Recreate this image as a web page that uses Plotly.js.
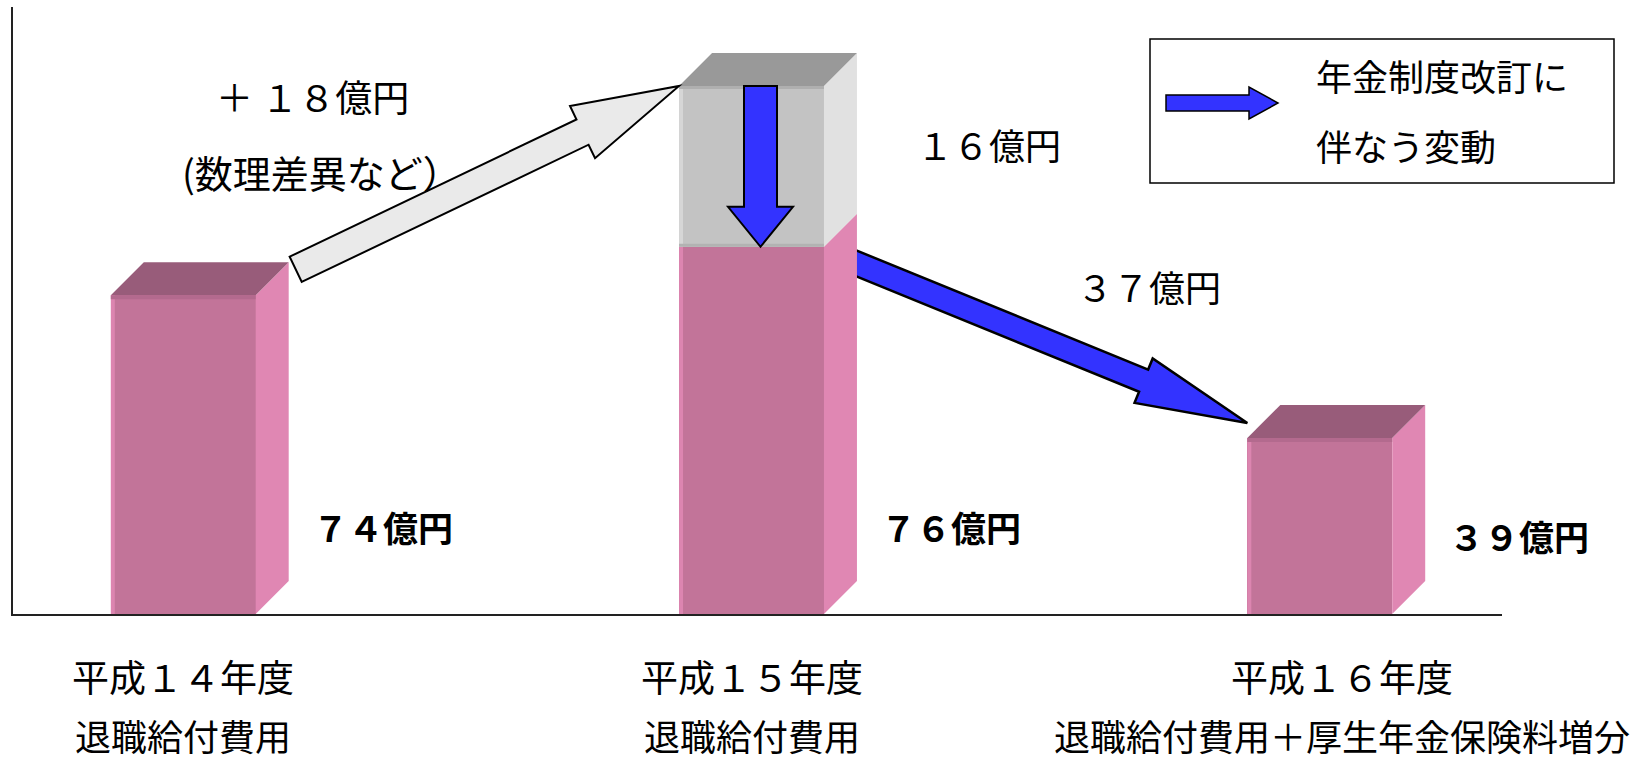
<!DOCTYPE html>
<html><head><meta charset="utf-8">
<script src="https://cdn.plot.ly/plotly-3.0.1.min.js"></script>
<style>html,body{margin:0;padding:0;background:#fff;}#chart{width:1650px;height:765px;}</style>
</head><body><div id="chart"></div>
<script>
// ---- data ----
const categories = ['平成１４年度', '平成１５年度', '平成１６年度'];
const subLabels = ['退職給付費用', '退職給付費用', '退職給付費用＋厚生年金保険料増分'];
const amountLabels = ['７４億円', '７６億円', '３９億円'];
// drawn bar heights as they appear in the picture (axis 0-100, diagram not to scale)
const pinkHeights = [52.5, 60.5, 29.0];
const grayHeights = [0, 26.5, 0];
const increaseLabels = ['＋ １８億円', '(数理差異など）'];
const revisionLabel = '１６億円';
const dropLabel = '３７億円';
const legendLines = ['年金制度改訂に', '伴なう変動'];

// ---- layout constants ----
const W = 1650, H = 765;
const M = {l: 13, r: 148, t: 7, b: 151};
const plotW = W - M.l - M.r, plotH = H - M.t - M.b;
const xRange = [-0.2996, 2.3207];
const yRange = [0, 100];
const barWidth = 0.255;
const depthPx = 33;
const FONT = "'Noto Sans CJK JP', 'Noto Sans', sans-serif";

const pxPerX = plotW / (xRange[1] - xRange[0]);
const pxPerY = plotH / (yRange[1] - yRange[0]);
const xToPx = x => M.l + (x - xRange[0]) * pxPerX;
const yToPx = y => M.t + plotH - (y - yRange[0]) * pxPerY;
const pxToX = p => xRange[0] + (p - M.l) / pxPerX;
const pxToY = p => yRange[0] + (M.t + plotH - p) / pxPerY;
const pxToPX = p => (p - M.l) / plotW;
const pxToPY = p => (M.t + plotH - p) / plotH;

function dataPath(pts) {
  return 'M' + pts.map(p => pxToX(p[0]).toFixed(5) + ',' + pxToY(p[1]).toFixed(4)).join('L') + 'Z';
}
function paperPath(pts) {
  return 'M' + pts.map(p => pxToPX(p[0]).toFixed(5) + ',' + pxToPY(p[1]).toFixed(5)).join('L') + 'Z';
}
function arrowPts(start, tip, sh, hh, hl) {
  const dx = tip[0] - start[0], dy = tip[1] - start[1];
  const L = Math.hypot(dx, dy);
  const ux = dx / L, uy = dy / L;
  const nx = -uy, ny = ux;
  const bx = tip[0] - ux * hl, by = tip[1] - uy * hl;
  return [
    [start[0] + nx * sh, start[1] + ny * sh],
    [bx + nx * sh, by + ny * sh],
    [bx + nx * hh, by + ny * hh],
    tip,
    [bx - nx * hh, by - ny * hh],
    [bx - nx * sh, by - ny * sh],
    [start[0] - nx * sh, start[1] - ny * sh]
  ];
}
const poly = (path, fill, lw, lc, ref) => ({
  type: 'path', path: path, xref: ref || 'x', yref: ref || 'y', layer: 'above',
  fillcolor: fill, line: {width: lw || 0, color: lc || 'rgba(0,0,0,0)'}
});

// geometry for each bar
const geo = categories.map((c, i) => {
  const left = xToPx(i - barWidth / 2), right = xToPx(i + barWidth / 2);
  return {
    left, right, cx: xToPx(i),
    base: yToPx(0),
    pinkTop: yToPx(pinkHeights[i]),
    top: yToPx(pinkHeights[i] + grayHeights[i]),
    hasGray: grayHeights[i] > 0
  };
});

const d = depthPx;
const shapes = [];

// blue diagonal arrow (behind bar 2 side face)
{
  const g2 = geo[1], g3 = geo[2];
  const start = [g2.right + d - 12, g2.pinkTop + 12];
  const tip = [g3.left, g3.top - 15];
  shapes.push(poly(dataPath(arrowPts(start, tip, 12, 24, 112)), '#3333FF', 2.5, '#000'));
}

geo.forEach((g, i) => {
  // side faces
  shapes.push(poly(dataPath([[g.right, g.base], [g.right, g.pinkTop], [g.right + d, g.pinkTop - d], [g.right + d, g.base - d]]), '#E087B3'));
  if (g.hasGray) {
    shapes.push(poly(dataPath([[g.right, g.pinkTop], [g.right, g.top], [g.right + d, g.top - d], [g.right + d, g.pinkTop - d]]), '#E1E1E1'));
  }
  // top face
  shapes.push(poly(dataPath([[g.left, g.top], [g.right, g.top], [g.right + d, g.top - d], [g.left + d, g.top - d]]), g.hasGray ? '#999999' : '#985C7A'));
  // edge highlights
  shapes.push(poly(dataPath([[g.left, g.base + 3], [g.left + 4, g.base + 3], [g.left + 4, g.pinkTop], [g.left, g.pinkTop]]), '#DC85B0'));
  shapes.push(poly(dataPath([[g.left, g.base], [g.right, g.base], [g.right, g.base + 3], [g.left, g.base + 3]]), '#DC94B8'));
  if (g.hasGray) {
    shapes.push(poly(dataPath([[g.left, g.pinkTop], [g.left + 4, g.pinkTop], [g.left + 4, g.top], [g.left, g.top]]), '#D6D6D6'));
    shapes.push(poly(dataPath([[g.left, g.pinkTop - 3], [g.right, g.pinkTop - 3], [g.right, g.pinkTop], [g.left, g.pinkTop]]), '#B2B2B2'));
    shapes.push(poly(dataPath([[g.left, g.top], [g.right, g.top], [g.right, g.top + 3], [g.left, g.top + 3]]), '#AFAFAF'));
  } else {
    shapes.push(poly(dataPath([[g.left, g.top], [g.right, g.top], [g.right, g.top + 4], [g.left, g.top + 4]]), '#B36A8E'));
  }
});

// white arrow: bar 1 -> bar 2
{
  const g1 = geo[0], g2 = geo[1];
  const start = [g1.right + d + 7, g1.top - 26];
  const tip = [g2.left, g2.top];
  shapes.push(poly(dataPath(arrowPts(start, tip, 14, 29, 107)), '#EAEAEA', 2, '#000'));
}
// blue down arrow inside bar 2
{
  const g2 = geo[1];
  const start = [g2.cx + 9, g2.top];
  const tip = [g2.cx + 9, g2.pinkTop];
  shapes.push(poly(dataPath(arrowPts(start, tip, 16.5, 32.5, 40)), '#3333FF', 2, '#000'));
}
// legend box and arrow
shapes.push({type: 'rect', xref: 'paper', yref: 'paper', x0: pxToPX(1150), x1: pxToPX(1614), y0: pxToPY(183), y1: pxToPY(39),
  line: {width: 1.5, color: '#000'}, fillcolor: 'rgba(0,0,0,0)', layer: 'above'});
shapes.push(poly(paperPath(arrowPts([1166, 103], [1278, 103], 8, 16, 29)), '#3333FF', 1.5, '#000', 'paper'));

// ---- traces ----
const traces = [
  {type: 'bar', x: categories, y: pinkHeights, width: barWidth, marker: {color: '#C27499', line: {width: 0}}, hoverinfo: 'skip', showlegend: false},
  {type: 'bar', x: categories, y: grayHeights, width: barWidth, marker: {color: '#C3C3C3', line: {width: 0}}, hoverinfo: 'skip', showlegend: false}
];

// ---- annotations ----
const txt = (text, x, y, size, opts) => Object.assign({
  text: text, x: x, y: y, xref: 'paper', yref: 'paper', showarrow: false,
  xanchor: 'center', yanchor: 'middle', font: {family: FONT, size: size, color: '#000'}
}, opts || {});

const annotations = [];
categories.forEach((c, i) => {
  const shift = i === 2 ? 22 : 0;
  annotations.push(txt(c, c, pxToPY(676), 37, {xref: 'x', xshift: shift}));
  annotations.push(txt(subLabels[i], c, pxToPY(763), 36, {xref: 'x', xshift: shift, yanchor: 'bottom'}));
  annotations.push(txt('<b>' + amountLabels[i] + '</b>', c, pxToPY(526), 35,
    {xref: 'x', xanchor: 'left', xshift: barWidth / 2 * pxPerX + depthPx + 22, yshift: i === 2 ? -9 : 0}));
});
annotations.push(txt(increaseLabels[0], pxToPX(312), pxToPY(96), 37));
annotations.push(txt(increaseLabels[1], pxToPX(321), pxToPY(171), 38));
annotations.push(txt(revisionLabel, pxToPX(989), pxToPY(144), 36));
annotations.push(txt(dropLabel, pxToPX(1149), pxToPY(286), 36));
annotations.push(txt(legendLines[0], pxToPX(1314), pxToPY(75), 36, {xanchor: 'left'}));
annotations.push(txt(legendLines[1], pxToPX(1314), pxToPY(145), 36, {xanchor: 'left'}));

const layout = {
  width: W, height: H,
  margin: M,
  paper_bgcolor: '#fff', plot_bgcolor: '#fff',
  barmode: 'stack',
  bargap: 0,
  showlegend: false,
  font: {family: FONT},
  xaxis: {type: 'category', range: xRange, showgrid: false, zeroline: false, showticklabels: false, ticks: '',
    showline: true, linecolor: '#222', linewidth: 2, fixedrange: true},
  yaxis: {range: yRange, showgrid: false, zeroline: false, showticklabels: false, ticks: '',
    showline: true, linecolor: '#222', linewidth: 2, fixedrange: true},
  shapes: shapes,
  annotations: annotations
};

Plotly.newPlot('chart', traces, layout, {displayModeBar: false, staticPlot: true});
</script>
</body></html>
